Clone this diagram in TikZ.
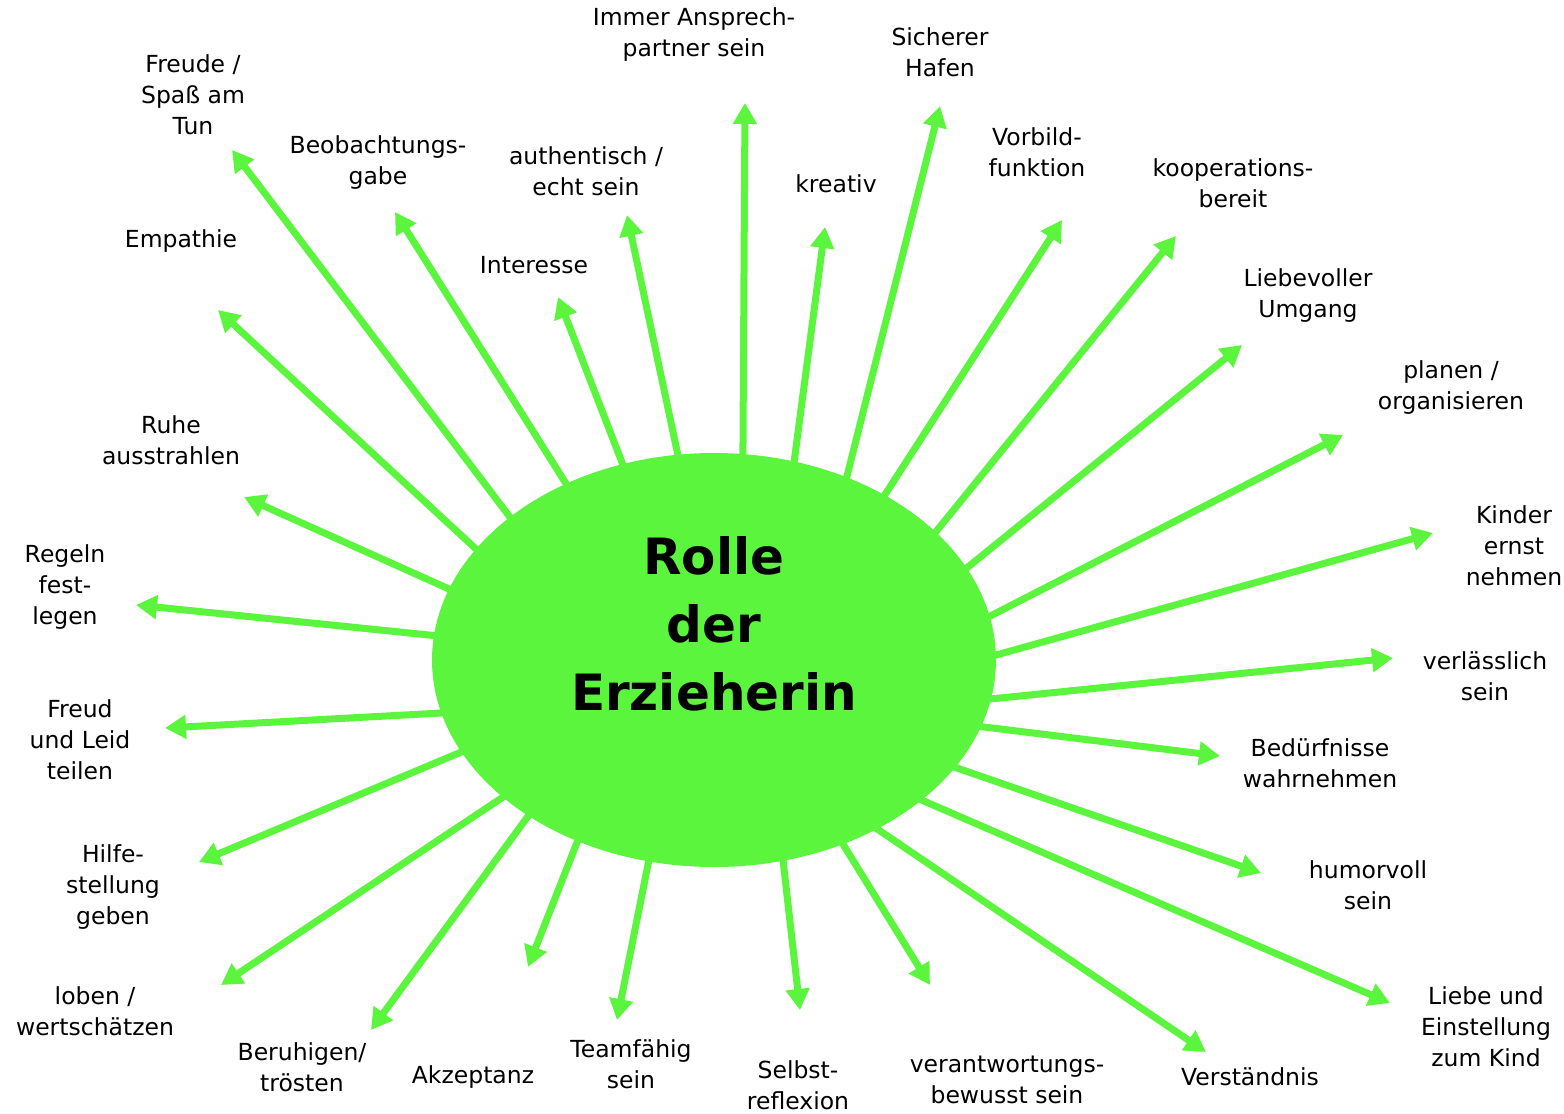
\documentclass[tikz,border=0pt]{standalone}
\usepackage{fontspec}
\setmainfont{DejaVu Sans}
\usetikzlibrary{shapes.geometric,arrows.meta}
\definecolor{sungreen}{HTML}{5CF53E}
\tikzset{
  lbl/.style={align=center,font=\fontsize{23.5}{31}\selectfont,inner sep=0pt},
  ray/.style={draw=sungreen,line width=7pt,shorten <=-15pt,-{Triangle[width=23pt,length=21pt]}},
}
\begin{document}
\begin{tikzpicture}[x=1pt,y=-1pt]
\useasboundingbox (0,0) rectangle (1564,1114);
\node[ellipse,fill=sungreen,minimum width=564pt,minimum height=414pt,inner sep=0pt,outer sep=0pt] (c) at (714,660) {};
\node[align=center,inner sep=0pt,font=\fontsize{50}{68}\selectfont\bfseries] (title) at (714,624) {Rolle\\der\\Erzieherin};
% tips
\coordinate (t1) at (232,150);
\coordinate (t2) at (395,212);
\coordinate (t3) at (627,215);
\coordinate (t4) at (745,103);
\coordinate (t5) at (940,106);
\coordinate (t6) at (825,227);
\coordinate (t7) at (1062,220);
\coordinate (t8) at (1176,236);
\coordinate (t9) at (1242,345);
\coordinate (t10) at (1343,435);
\coordinate (t11) at (1433,533);
\coordinate (t12) at (1393,658);
\coordinate (t13) at (1220,756);
\coordinate (t14) at (1261,873);
\coordinate (t15) at (1390,1003);
\coordinate (t16) at (1206,1052);
\coordinate (t17) at (930,985);
\coordinate (t18) at (800,1010);
\coordinate (t19) at (617,1020);
\coordinate (t20) at (528,967);
\coordinate (t21) at (371,1030);
\coordinate (t22) at (221,985);
\coordinate (t23) at (199,862);
\coordinate (t24) at (165,728);
\coordinate (t25) at (136,605);
\coordinate (t26) at (244,497);
\coordinate (t27) at (218,310);
\coordinate (t28) at (558,297);
% rays
\draw[ray] (c.145.8) -- (t1);
\draw[ray] (c.130.7) -- (t2);
\draw[ray] (c.100.5) -- (t3);
\draw[ray] (c.82.3) -- (t4);
\draw[ray] (c.54.6) -- (t5);
\draw[ray] (c.68.4) -- (t6);
\draw[ray] (c.44.8) -- (t7);
\draw[ray] (c.30.1) -- (t8);
\draw[ray] (c.20.1) -- (t9);
\draw[ray] (c.9.3) -- (t10);
\draw[ray] (c.1.0) -- (t11);
\draw[ray] (c.-8.2) -- (t12);
\draw[ray] (c.-14.7) -- (t13);
\draw[ray] (c.-24.7) -- (t14);
\draw[ray] (c.-34.5) -- (t15);
\draw[ray] (c.-46.6) -- (t16);
\draw[ray] (c.-55.1) -- (t17);
\draw[ray] (c.-71.7) -- (t18);
\draw[ray] (c.-108.3) -- (t19);
\draw[ray] (c.-127.1) -- (t20);
\draw[ray] (c.-140.3) -- (t21);
\draw[ray] (c.-147.9) -- (t22);
\draw[ray] (c.-160.2) -- (t23);
\draw[ray] (c.-169.3) -- (t24);
\draw[ray] (c.175.9) -- (t25);
\draw[ray] (c.165.3) -- (t26);
\draw[ray] (c.155.9) -- (t27);
\draw[ray] (c.115.1) -- (t28);
% labels
\node[lbl] (l1) at (193,95) {Freude /\\Spaß am\\Tun};
\node[lbl] (l2) at (378,163) {Beobachtungs-\\gabe};
\node[lbl] (l3) at (586,171) {authentisch /\\echt sein};
\node[lbl] (l4) at (694,35) {Immer Ansprech-\\partner sein};
\node[lbl] (l5) at (940,52) {Sicherer\\Hafen};
\node[lbl] (l6) at (836,184) {kreativ};
\node[lbl] (l7) at (1037,152) {Vorbild-\\funktion};
\node[lbl] (l8) at (1233,183) {kooperations-\\bereit};
\node[lbl] (l9) at (1308,296) {Liebevoller\\Umgang};
\node[lbl] (l10) at (1451,388) {planen /\\organisieren};
\node[lbl] (l11) at (1514,546) {Kinder\\ernst\\nehmen};
\node[lbl] (l12) at (1485,676) {verlässlich\\sein};
\node[lbl] (l13) at (1320,763) {Bedürfnisse\\wahrnehmen};
\node[lbl] (l14) at (1368,885) {humorvoll\\sein};
\node[lbl] (l15) at (1486,1027) {Liebe und\\Einstellung\\zum Kind};
\node[lbl] (l16) at (1250,1077) {Verständnis};
\node[lbl] (l17) at (1007,1080) {verantwortungs-\\bewusst sein};
\node[lbl] (l18) at (798,1085) {Selbst-\\reflexion};
\node[lbl] (l19) at (631,1064) {Teamfähig\\sein};
\node[lbl] (l20) at (473,1077) {Akzeptanz};
\node[lbl] (l21) at (302,1067) {Beruhigen/\\trösten};
\node[lbl] (l22) at (95,1011) {loben /\\wertschätzen};
\node[lbl] (l23) at (113,887) {Hilfe-\\stellung\\geben};
\node[lbl] (l24) at (80,740) {Freud\\und Leid\\teilen};
\node[lbl] (l25) at (65,587) {Regeln\\fest-\\legen};
\node[lbl] (l26) at (171,440) {Ruhe\\ausstrahlen};
\node[lbl] (l27) at (181,241) {Empathie};
\node[lbl] (l28) at (534,265) {Interesse};
\end{tikzpicture}
\end{document}
